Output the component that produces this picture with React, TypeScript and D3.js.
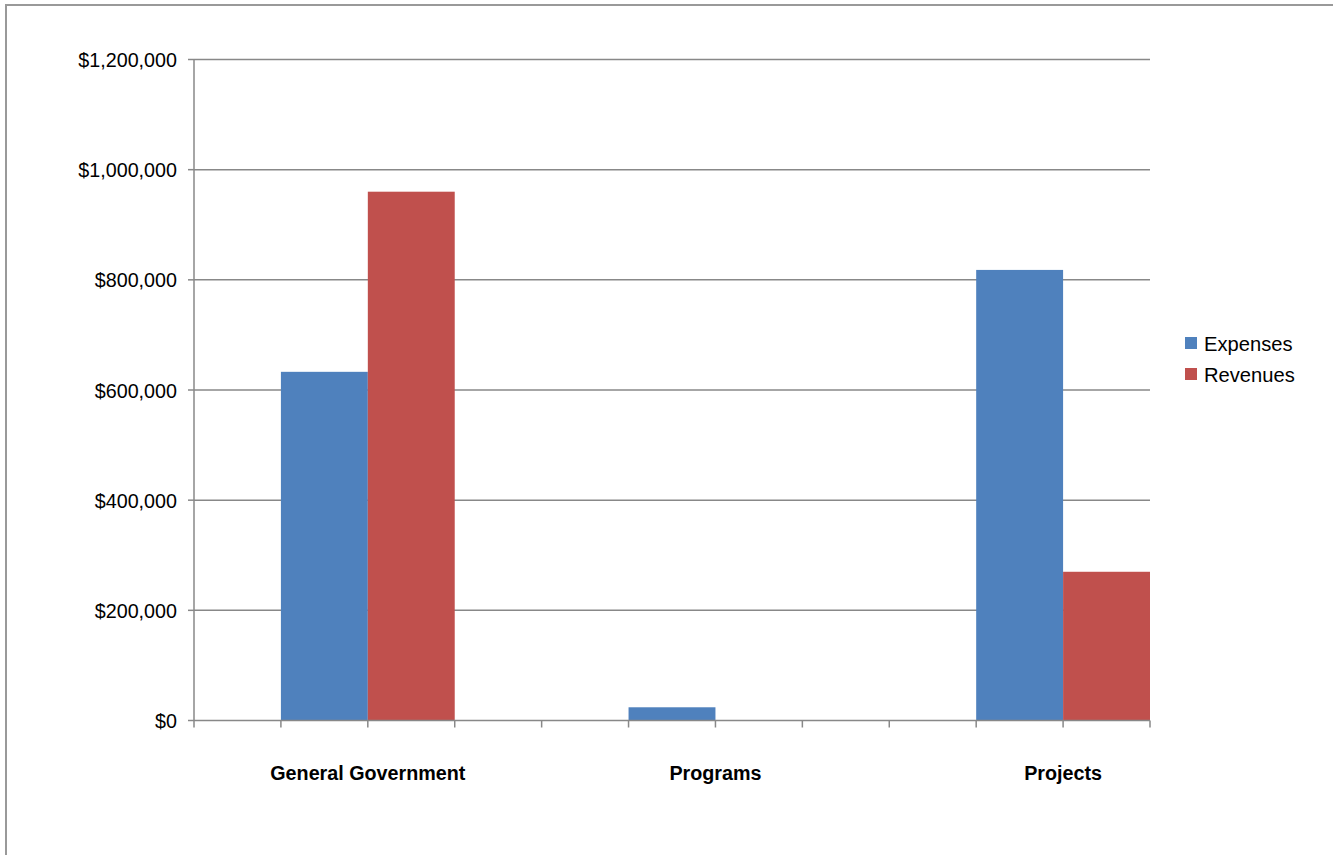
import React from "react";
import * as d3 from "d3";

const categories = ["General Government", "Programs", "Projects"];
const seriesNames = ["Expenses", "Revenues"];
const expenses = [633000, 24000, 818000];
const revenues = [960000, 0, 270000];
const yTicks = [0, 200000, 400000, 600000, 800000, 1000000, 1200000];
const colors = ["#4F81BD", "#C0504D"];

const W = 1333;
const H = 855;
const left = 194;
const right = 1150;
const top = 59.5;
const bottom = 720.5;
const slots = 11;

export default function App() {
  const y = d3.scaleLinear().domain([0, 1200000]).range([bottom, top]);
  const x = d3.scaleLinear().domain([0, slots]).range([left, right]);
  const center = (i: number) => 2 + 4 * i;
  const fmt = (v: number) => "$" + d3.format(",")(v);
  const series = [expenses, revenues];
  const font = "'Liberation Sans', Arial, sans-serif";

  return (
    <svg
      width={W}
      height={H}
      style={{ position: "absolute", left: 0, top: 0, display: "block" }}
      fontFamily={font}
    >
      <rect x={0} y={0} width={W} height={H} fill="#fff" />
      <rect x={6} y={5} width={W + 10} height={H + 10} fill="none" stroke="#999" strokeWidth={2} />
      {yTicks.map((t) => (
        <g key={t}>
          {t > 0 && (
            <line x1={left} x2={right} y1={y(t)} y2={y(t)} stroke="#888" strokeWidth={1.5} />
          )}
          <line x1={left - 6} x2={left} y1={y(t)} y2={y(t)} stroke="#888" strokeWidth={1.5} />
          <text
            transform={`translate(177,${y(t)}) scale(0.94,1)`}
            dy="0.36em"
            textAnchor="end"
            fontSize={21}
            fill="#000"
          >
            {fmt(t)}
          </text>
        </g>
      ))}
      {series.map((vals, s) =>
        vals.map((v, i) => {
          const x0 = x(center(i) - 1 + s);
          const x1 = x(center(i) + s);
          return v > 0 ? (
            <rect key={s + "-" + i} x={x0} y={y(v)} width={x1 - x0} height={y(0) - y(v)} fill={colors[s]} />
          ) : null;
        })
      )}
      <line x1={left} x2={left} y1={top} y2={bottom} stroke="#888" strokeWidth={1.5} />
      <line x1={left} x2={right} y1={bottom} y2={bottom} stroke="#888" strokeWidth={1.5} />
      {d3.range(0, slots + 1).map((k) => (
        <line key={k} x1={x(k)} x2={x(k)} y1={bottom} y2={bottom + 7} stroke="#888" strokeWidth={1.5} />
      ))}
      {categories.map((c, i) => (
        <text
          key={c}
          transform={`translate(${x(center(i))},780) scale(0.94,1)`}
          textAnchor="middle"
          fontSize={21}
          fontWeight="bold"
          fill="#000"
        >
          {c}
        </text>
      ))}
      {seriesNames.map((n, s) => (
        <g key={n}>
          <rect x={1185} y={337 + s * 31} width={12} height={12} fill={colors[s]} />
          <text transform={`translate(1204,${351 + s * 31}) scale(0.96,1)`} fontSize={21} fill="#000">
            {n}
          </text>
        </g>
      ))}
    </svg>
  );
}
